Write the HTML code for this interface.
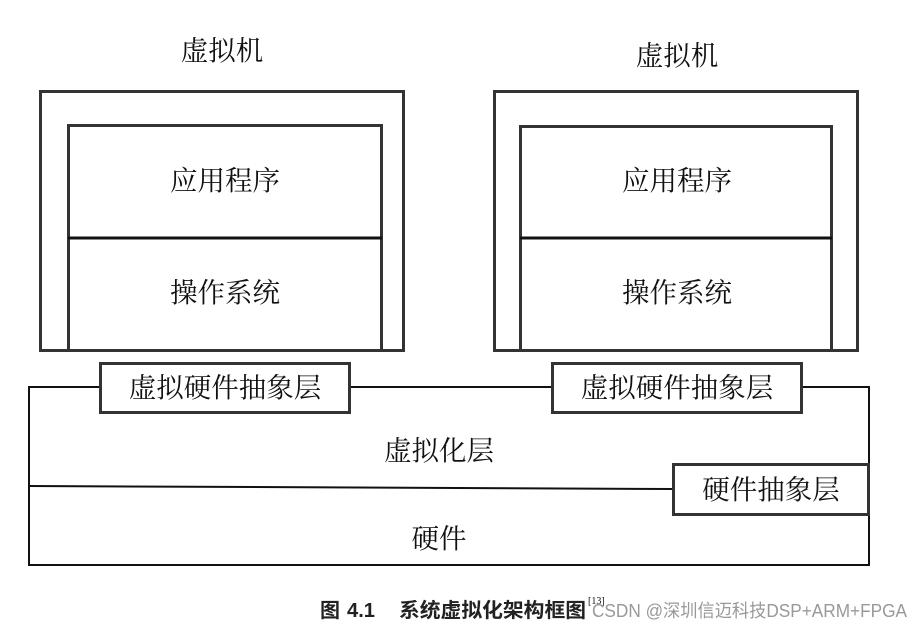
<!DOCTYPE html>
<html><head><meta charset="utf-8"><style>
html,body{margin:0;padding:0;background:#fff;width:920px;height:629px;overflow:hidden}
text{font-family:"Liberation Serif","Noto Serif CJK SC",serif;font-size:27.5px;fill:#111}
.c{font-family:'Liberation Sans','Noto Sans CJK SC',sans-serif;font-size:20px;font-weight:bold;fill:#222}
</style></head><body>
<svg width="920" height="629" xmlns="http://www.w3.org/2000/svg">
<g fill="none" stroke="#333" stroke-width="3">
<rect x="40.5" y="91.5" width="363" height="259"/>
<rect x="68.5" y="125.5" width="313" height="225"/>
<line x1="68" y1="238" x2="382" y2="238" stroke="#111"/>
<rect x="494.5" y="91.5" width="363" height="259"/>
<rect x="520.5" y="126.5" width="311" height="224"/>
<line x1="520" y1="238" x2="832" y2="238" stroke="#111"/>
</g>
<g fill="none" stroke="#111" stroke-width="2">
<polyline points="100,387 29,387 29,565 869,565 869,387 802,387"/>
<line x1="350" y1="387" x2="552" y2="387"/>
<line x1="29" y1="486" x2="673" y2="489"/>
</g>
<g fill="#fff" stroke="#333" stroke-width="3">
<rect x="100.5" y="363.5" width="249" height="49"/>
<rect x="552.5" y="363.5" width="249" height="49"/>
<rect x="673.5" y="464.5" width="195" height="50"/>
</g>
<g text-anchor="middle">
<text x="222" y="60">虚拟机</text>
<text x="677" y="65">虚拟机</text>
<text x="225" y="190">应用程序</text>
<text x="677" y="190">应用程序</text>
<text x="225" y="302">操作系统</text>
<text x="677" y="302">操作系统</text>
<text x="225" y="397">虚拟硬件抽象层</text>
<text x="677" y="397">虚拟硬件抽象层</text>
<text x="439" y="460">虚拟化层</text>
<text x="771" y="499">硬件抽象层</text>
<text x="439" y="548">硬件</text>
</g>
<text class="c" x="320" y="617">图</text>
<text class="c" x="347" y="617" textLength="28" lengthAdjust="spacingAndGlyphs">4.1</text>
<text class="c" x="399" y="617" textLength="187" lengthAdjust="spacingAndGlyphs">系统虚拟化架构框图</text>
<text x="588" y="604" style="font-size:10px">[13]</text>
<text x="592" y="617" textLength="315" lengthAdjust="spacingAndGlyphs" style="font-family:'Liberation Sans','Noto Sans CJK SC',sans-serif;font-size:18px;fill:#999">CSDN @深圳信迈科技DSP+ARM+FPGA</text>
</svg>
</body></html>
